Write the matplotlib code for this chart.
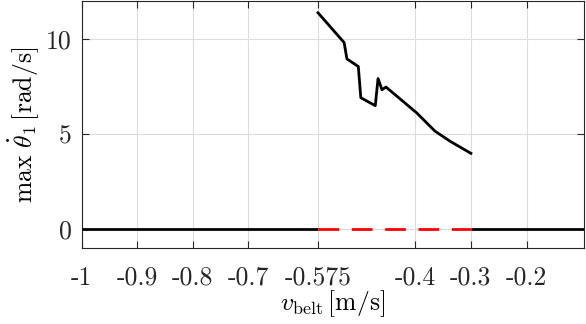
import matplotlib
matplotlib.use("Agg")
import matplotlib.pyplot as plt

plt.rcParams['mathtext.fontset'] = 'cm'
plt.rcParams['font.family'] = ['cmr10', 'DejaVu Serif']
plt.rcParams['axes.unicode_minus'] = False
plt.rcParams['lines.scale_dashes'] = False

v_curve = [-0.575, -0.528, -0.523, -0.5025, -0.498, -0.472, -0.467, -0.460, -0.4527,
           -0.3975, -0.3736, -0.3646, -0.3376, -0.300]
theta_max = [11.38, 9.81, 8.95, 8.55, 6.91, 6.49, 7.92, 7.33, 7.47,
             6.11, 5.41, 5.15, 4.62, 3.98]

zero_left_v = [-1.0, -0.575]
zero_mid_v = [-0.575, -0.3]
zero_right_v = [-0.3, -0.09]
zero_vals = [0, 0]

xticks = [-1, -0.9, -0.8, -0.7, -0.575, -0.4, -0.3, -0.2]
xticklabels = ['-1', '-0.9', '-0.8', '-0.7', '-0.575', '-0.4', '-0.3', '-0.2']
yticks = [0, 5, 10]
yticklabels = ['0', '5', '10']

fig = plt.figure(figsize=(5.86, 3.24), dpi=100)
ax = fig.add_axes([0.1394, 0.2346, 0.8572, 0.7624])

ax.plot(zero_left_v, zero_vals, color='black', lw=2.0, solid_capstyle='butt', zorder=3)
ax.plot(zero_right_v, zero_vals, color='black', lw=2.0, solid_capstyle='butt', zorder=3)
ax.plot(zero_mid_v, zero_vals, color='#ff0000', lw=2.0, dashes=(14.9, 9.1), dash_capstyle='butt', zorder=3)
ax.plot(v_curve, theta_max, color='black', lw=2.0, zorder=3)

ax.set_xlim(-1, -0.0966)
ax.set_ylim(-1, 12)
ax.set_xticks(xticks)
ax.set_xticklabels(xticklabels)
ax.set_yticks(yticks)
ax.set_yticklabels(yticklabels)
ax.grid(True, color='#dcdcdc', lw=0.8)
ax.set_axisbelow(True)
ax.tick_params(direction='in', top=True, right=True, length=5, width=0.8,
               labelsize=18.5, colors='#262626')
ax.tick_params(axis='x', pad=13)
ax.tick_params(axis='y', pad=7)
for sp in ax.spines.values():
    sp.set_color('#262626')
    sp.set_linewidth(0.8)

ax.set_xlabel(r'$v_{\mathrm{belt}}\,[\mathrm{m/s}]$', fontsize=18.5, labelpad=-1)
ax.set_ylabel(r'$\max\ \dot{\theta}_1\,[\mathrm{rad/s}]$', fontsize=18.5, labelpad=4)

fig.savefig('out.png', dpi=100)
